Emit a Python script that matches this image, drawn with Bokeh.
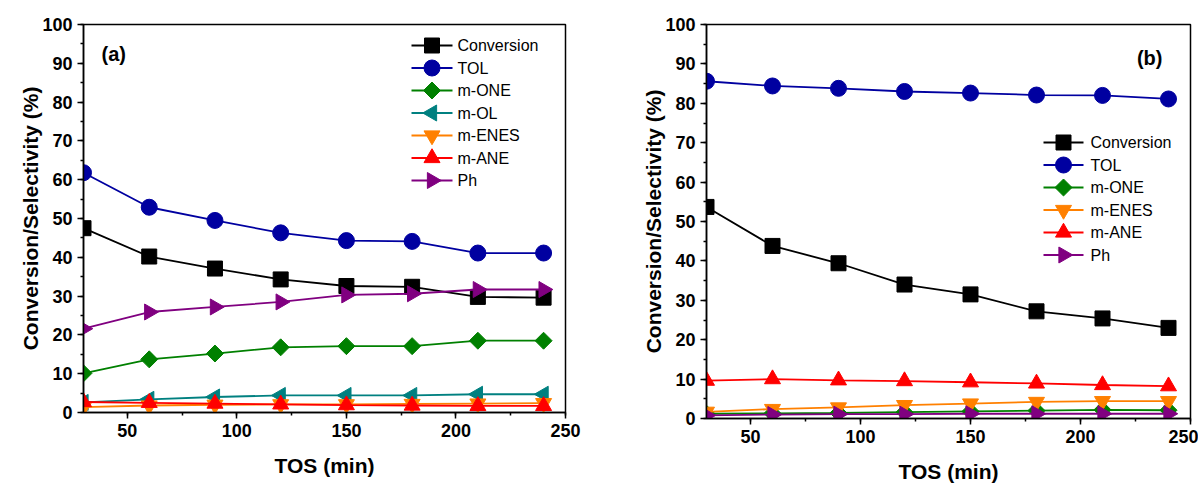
import math
from bokeh.plotting import figure
from bokeh.layouts import row
from bokeh.models import SingleIntervalTicker, Range1d, Label
from bokeh.embed import file_html
from bokeh.resources import INLINE

# ---------------- data ----------------
tos = [30, 60, 90, 120, 150, 180, 210, 240]

# panel (a)
a_conversion = [47.5, 40.2, 37.1, 34.3, 32.6, 32.4, 29.8, 29.6]
a_tol = [61.8, 52.9, 49.5, 46.3, 44.3, 44.1, 41.1, 41.1]
a_mone = [10.1, 13.7, 15.2, 16.8, 17.1, 17.1, 18.5, 18.5]
a_mol = [2.6, 3.4, 4.0, 4.4, 4.4, 4.4, 4.7, 4.7]
a_menes = [1.4, 1.8, 2.0, 2.1, 2.1, 2.2, 2.3, 2.4]
a_mane = [2.7, 2.5, 2.3, 2.1, 1.9, 1.8, 1.7, 1.7]
a_ph = [21.6, 25.9, 27.2, 28.5, 30.3, 30.6, 31.7, 31.7]

# panel (b)
b_conversion = [53.7, 43.8, 39.4, 34.0, 31.5, 27.2, 25.4, 23.0]
b_tol = [85.6, 84.4, 83.8, 83.0, 82.6, 82.1, 82.0, 81.1]
b_mone = [1.2, 1.3, 1.4, 1.6, 1.8, 2.0, 2.2, 2.1]
b_menes = [1.7, 2.4, 2.8, 3.4, 3.8, 4.2, 4.4, 4.4]
b_mane = [9.6, 10.0, 9.7, 9.5, 9.2, 8.9, 8.5, 8.2]
b_ph = [0.8, 1.0, 1.1, 1.1, 1.2, 1.2, 1.2, 1.2]

series_names = ["Conversion", "TOL", "m-ONE", "m-OL", "m-ENES", "m-ANE", "Ph"]
x_limits = (30, 250)
y_limits = (0, 100)

# ---------------- styles ----------------
STYLE = {
    "Conversion": dict(color="#000000", marker="square", size=15, angle=0.0),
    "TOL": dict(color="#0000A0", marker="circle", size=16, angle=0.0),
    "m-ONE": dict(color="#008000", marker="square", size=12, angle=math.pi / 4),
    "m-OL": dict(color="#008080", marker="triangle", size=16, angle=math.pi / 2),
    "m-ENES": dict(color="#FF8000", marker="inverted_triangle", size=16, angle=0.0),
    "m-ANE": dict(color="#FF0000", marker="triangle", size=16, angle=0.0),
    "Ph": dict(color="#800080", marker="triangle", size=16, angle=-math.pi / 2),
}

FONT = "Liberation Sans"


def make_panel(data, frame, borders, legend_px, tag, tag_px, tag_align):
    fw, fh = frame
    bl, br, bt, bb = borders
    p = figure(frame_width=fw, frame_height=fh, output_backend="svg", toolbar_location=None,
               x_range=Range1d(*x_limits), y_range=Range1d(*y_limits),
               min_border_left=bl, min_border_right=br, min_border_top=bt, min_border_bottom=bb)
    p.xgrid.visible = False
    p.ygrid.visible = False
    p.outline_line_color = "black"
    p.outline_line_width = 1.5
    p.background_fill_color = "white"
    p.border_fill_color = "white"

    # convert frame-pixel offsets (from frame top-left) to data units for annotations
    def dx(px):
        return x_limits[0] + px * (x_limits[1] - x_limits[0]) / fw

    def dy(py):
        return y_limits[1] - py * (y_limits[1] - y_limits[0]) / fh

    p.xaxis.ticker = SingleIntervalTicker(interval=50, num_minor_ticks=2)
    p.yaxis.ticker = SingleIntervalTicker(interval=10, num_minor_ticks=2)
    for ax in (p.xaxis[0], p.yaxis[0]):
        ax.axis_line_width = 1.5
        ax.major_tick_line_width = 1.5
        ax.minor_tick_line_width = 1.5
        ax.major_tick_in = 0
        ax.major_tick_out = 6
        ax.minor_tick_in = 0
        ax.minor_tick_out = 3
        ax.major_label_text_font = FONT
        ax.major_label_text_font_style = "bold"
        ax.major_label_text_font_size = "18px"
        ax.major_label_text_color = "black"
        ax.axis_label_text_font = FONT
        ax.axis_label_text_font_style = "bold"
        ax.axis_label_text_font_size = "21px"
        ax.axis_label_text_color = "black"
    p.xaxis.axis_label = "TOS (min)"
    p.yaxis.axis_label = "Conversion/Selectivity (%)"
    p.xaxis.axis_label_standoff = 14
    p.yaxis.axis_label_standoff = -3

    for name, vals in data:
        st = STYLE[name]
        p.line(tos, vals, line_color=st["color"], line_width=1.8)
        p.scatter(tos, vals, marker=st["marker"], size=st["size"], angle=st["angle"],
                  fill_color=st["color"], line_color=st["color"], line_width=1)

    # hand-built legend (keeps rotated markers)
    gx0, gx1, tx, ty0, step = legend_px
    for i, (name, _) in enumerate(data):
        st = STYLE[name]
        yy = dy(ty0 + i * step)
        p.line([dx(gx0), dx(gx1)], [yy, yy], line_color=st["color"], line_width=1.8)
        p.scatter([dx((gx0 + gx1) / 2)], [yy], marker=st["marker"], size=st["size"],
                  angle=st["angle"], fill_color=st["color"], line_color=st["color"], line_width=1)
        p.add_layout(Label(x=dx(tx), y=yy, text=name, text_font=FONT, text_font_size="16px",
                           text_baseline="middle", text_align="left", text_color="black"))

    p.add_layout(Label(x=dx(tag_px[0]), y=dy(tag_px[1]), text=tag, text_font=FONT,
                       text_font_style="bold", text_font_size="20px", text_baseline="middle",
                       text_align=tag_align, text_color="black"))
    return p


data_a = list(zip(series_names, [a_conversion, a_tol, a_mone, a_mol, a_menes, a_mane, a_ph]))
data_b = [(n, v) for n, v in zip(series_names,
                                 [b_conversion, b_tol, b_mone, None, b_menes, b_mane, b_ph]) if v is not None]

# legend_px: glyph x0, glyph x1, text x, first row y, row step (pixels from frame top-left)
pa = make_panel(data_a, (482, 388), (83, 45, 24, 76), (328, 369, 374, 21, 22.5),
                "(a)", (18, 29), "left")
pb = make_panel(data_b, (484, 394), (96, 8, 24, 70), (337, 377, 384, 118, 22.5),
                "(b)", (456, 33), "right")

layout = row(pa, pb, spacing=0)
open("out.html", "w").write(file_html(layout, INLINE))
